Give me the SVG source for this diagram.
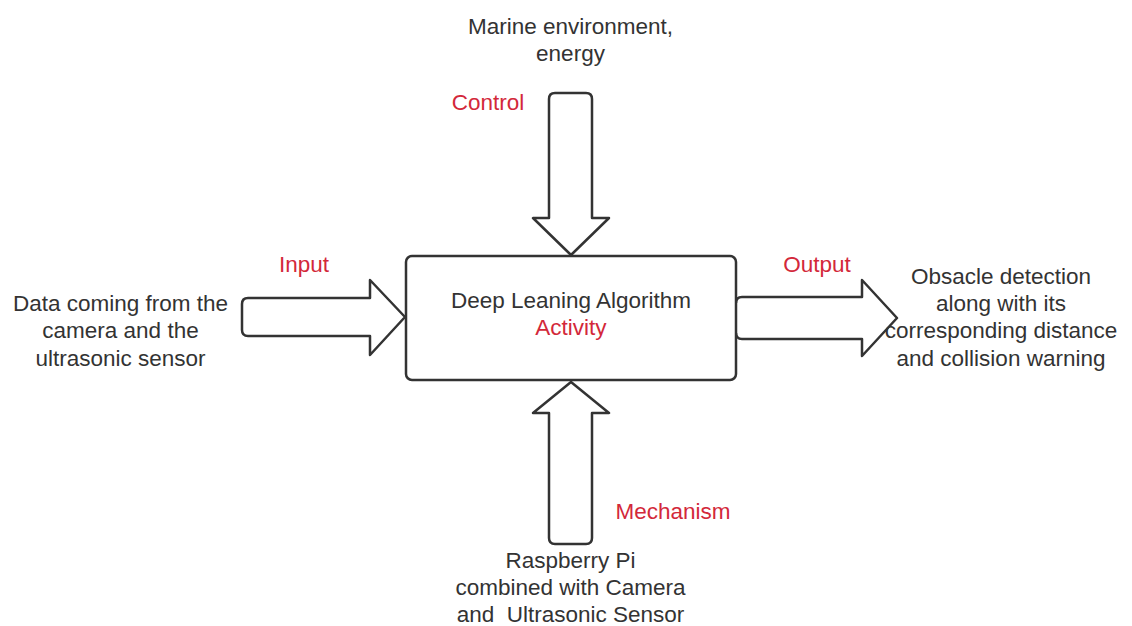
<svg xmlns="http://www.w3.org/2000/svg" width="1132" height="626" viewBox="0 0 1132 626">
  <style>
    .shape { fill: #ffffff; stroke: #333333; stroke-width: 2.5; stroke-linejoin: round; }
    .t { font-family: "Liberation Sans", Arial, sans-serif; font-size: 22.5px; fill: #333333; text-anchor: middle; }
    .red { fill: #d3283a; }
  </style>
  <rect width="1132" height="626" fill="#ffffff"/>

  <g id="connectors">
    <!-- Control arrow (down into activity) -->
    <path id="control-arrow" class="shape" d="M555,93 H586 Q592,93 592,99 V218 H609 L571,255 L533,218 H549 V99 Q549,93 555,93 Z"/>
    <!-- Input arrow -->
    <path id="input-arrow" class="shape" d="M248,298 H370 V280 L405,317 L370,355 V336 H248 Q242,336 242,330 V304 Q242,298 248,298 Z"/>
    <!-- Output arrow -->
    <path id="output-arrow" class="shape" d="M736,303 Q736,297 742,297 H862 V280 L897,318 L862,356 V339 H742 Q736,339 736,333"/>
    <!-- Mechanism arrow (up into activity) -->
    <path id="mechanism-arrow" class="shape" d="M571,382 L609,413 H592 V538 Q592,544 586,544 H555 Q549,544 549,538 V413 H533 Z"/>
  </g>

  <g id="activity">
    <rect class="shape" x="406" y="256" width="330" height="124" rx="6"/>
    <text class="t" x="571" y="308">Deep Leaning Algorithm</text>
    <text class="t red" x="571" y="335">Activity</text>
  </g>

  <g id="control">
    <text class="t" x="570.5" y="34">Marine environment,</text>
    <text class="t" x="570.5" y="61">energy</text>
    <text class="t red" x="488" y="110">Control</text>
  </g>

  <g id="input">
    <text class="t red" x="304" y="272">Input</text>
    <text class="t" x="120.5" y="311">Data coming from the</text>
    <text class="t" x="120.5" y="338">camera and the</text>
    <text class="t" x="120.5" y="366">ultrasonic sensor</text>
  </g>

  <g id="output">
    <text class="t red" x="817" y="272">Output</text>
    <text class="t" x="1001" y="284">Obsacle detection</text>
    <text class="t" x="1001" y="311">along with its</text>
    <text class="t" x="1001" y="338">corresponding distance</text>
    <text class="t" x="1001" y="366">and collision warning</text>
  </g>

  <g id="mechanism">
    <text class="t red" x="673" y="519">Mechanism</text>
    <text class="t" x="570.5" y="568">Raspberry Pi</text>
    <text class="t" x="570.5" y="595">combined with Camera</text>
    <text class="t" x="570.5" y="622" xml:space="preserve">and  Ultrasonic Sensor</text>
  </g>
</svg>
